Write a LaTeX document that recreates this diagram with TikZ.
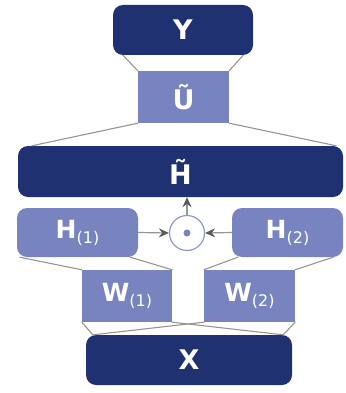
\documentclass[tikz,border=0pt]{standalone}
\usepackage{fontspec}
\setmainfont{DejaVu Sans}
\usetikzlibrary{arrows.meta}
\definecolor{FigureNavy}{HTML}{1F3170}
\definecolor{FigureLilac}{HTML}{7884C0}
\definecolor{FigureRing}{HTML}{8E98CE}
\definecolor{FigureGrey}{HTML}{959595}
\definecolor{FigureTip}{HTML}{5A5A5A}
\newcommand{\idx}[1]{\raisebox{-5pt}{\fontsize{16}{16}\selectfont\mdseries(#1)}}

\begin{document}
\begin{tikzpicture}[x=1pt,y=-1pt,line cap=round,line join=round,
  dark/.style={fill=FigureNavy,rounded corners=10pt,inner sep=0pt,text=white,font=\fontsize{27}{30}\selectfont\bfseries},
  lite/.style={fill=FigureLilac,inner sep=0pt,text=white,font=\fontsize{25}{28}\selectfont\bfseries},
  link/.style={FigureGrey,line width=1.1pt},
  flow/.style={FigureGrey,line width=1.2pt,-{Stealth[length=10pt,width=9pt,color=FigureTip]}}]
  \useasboundingbox (0,0) rectangle (345,393);
  % dark blocks
  \node[dark,minimum width=140pt,minimum height=50pt] (Y) at (183,30) {Y};
  \node[dark,minimum width=325pt,minimum height=51pt] (Ht) at (180.5,171.5) {\~{H}};
  \node[dark,minimum width=206pt,minimum height=50pt] (X) at (189,360) {X};
  % light blocks
  \node[lite,font=\fontsize{27}{30}\selectfont\bfseries,minimum width=91pt,minimum height=52pt] (U) at (183.5,97) {\~{U}};
  \node[lite,rounded corners=10pt,minimum width=121pt,minimum height=49pt] (H1) at (77.5,232.5) {H\idx{1}};
  \node[lite,rounded corners=10pt,minimum width=111pt,minimum height=49pt] (H2) at (287.5,232.5) {H\idx{2}};
  \node[lite,minimum width=90pt,minimum height=52pt] (W1) at (127,296) {W\idx{1}};
  \node[lite,minimum width=91pt,minimum height=52pt] (W2) at (249.5,296) {W\idx{2}};
  % product
  \node[circle,draw=FigureRing,fill=white,line width=1.2pt,minimum size=35pt,inner sep=0pt] (prod) at (187,233) {};
  \fill[FigureLilac] (prod) circle (3.5pt);
  % links
  \draw[link] ([xshift=10pt]Y.south west) -- (U.north west);
  \draw[link] ([xshift=-10pt]Y.south east) -- (U.north east);
  \draw[link] (U.south west) -- ([xshift=14pt]Ht.north west);
  \draw[link] (U.south east) -- ([xshift=-7pt]Ht.north east);
  \draw[link] ([xshift=3pt]H1.south west) -- (W1.north west);
  \draw[link] ([xshift=-8pt]H1.south east) -- (W1.north east);
  \draw[link] ([xshift=6pt]H2.south west) -- (W2.north west);
  \draw[link] ([xshift=-10pt]H2.south east) -- (W2.north east);
  \foreach \w in {W1,W2}{
    \draw[link] (\w.south west) -- ([xshift=7pt]X.north west);
    \draw[link] (\w.south east) -- ([xshift=-9pt]X.north east);}
  % arrows
  \draw[flow] (H1.east) -- (prod.west);
  \draw[flow] (H2.west) -- (prod.east);
  \draw[flow] (prod.north) -- (prod.north |- Ht.south);
\end{tikzpicture}
\end{document}
